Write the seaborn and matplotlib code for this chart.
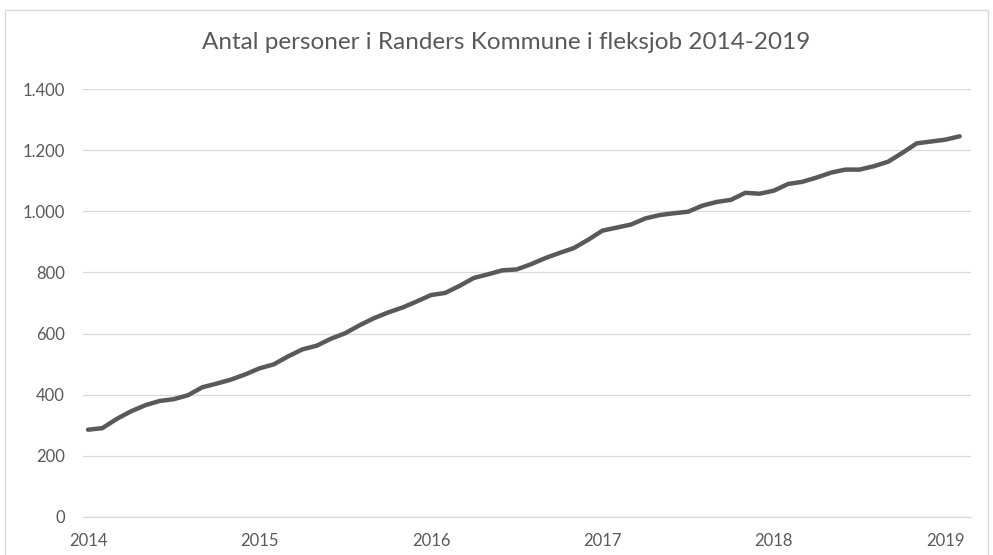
import matplotlib
matplotlib.use("Agg")
import matplotlib.pyplot as plt
from matplotlib.patches import Rectangle
import pandas as pd
import seaborn as sns

# monthly values, Jan 2014 - Feb 2019
antal = [285, 290, 320, 345, 365, 379, 385, 398, 424, 436, 449, 466,
         486, 499, 525, 548, 560, 583, 601, 627, 650, 669, 685, 705,
         726, 733, 756, 782, 794, 807, 810, 827, 847, 864, 880, 907,
         937, 947, 957, 977, 988, 994, 999, 1019, 1031, 1038, 1061, 1058,
         1068, 1090, 1097, 1111, 1127, 1137, 1137, 1148, 1163, 1192, 1223, 1229,
         1235, 1246]
maaned = list(range(len(antal)))
aar_labels = ["2014", "2015", "2016", "2017", "2018", "2019"]
aar_pos = [0, 12, 24, 36, 48, 60]
y_ticks = [0, 200, 400, 600, 800, 1000, 1200, 1400]
y_labels = ["0", "200", "400", "600", "800", "1.000", "1.200", "1.400"]
titel = "Antal personer i Randers Kommune i fleksjob 2014-2019"

sns.set_style("white")
plt.rcParams['font.family'] = ['Lato', 'DejaVu Sans']

df = pd.DataFrame({"maaned": maaned, "antal": antal})

fig = plt.figure(figsize=(9.93, 5.55), dpi=100)
ax = fig.add_axes([0.0836, 0.069, 0.8943, 0.7701])

sns.lineplot(data=df, x="maaned", y="antal", ax=ax, color="#595959",
             linewidth=3.2, solid_joinstyle="round", solid_capstyle="round")

ax.set_xlim(-0.35, 61.8)
ax.set_ylim(0, 1400)
ax.set_yticks(y_ticks)
ax.set_yticklabels(y_labels)
ax.set_xticks(aar_pos)
ax.set_xticklabels(aar_labels)
ax.set_xlabel("")
ax.set_ylabel("")

ax.grid(axis="y", color="#d9d9d9", linewidth=0.9)
ax.set_axisbelow(True)
for side in ["top", "right", "left"]:
    ax.spines[side].set_visible(False)
ax.spines["bottom"].set_color("#d9d9d9")
ax.spines["bottom"].set_linewidth(0.9)
ax.tick_params(axis="y", length=0, pad=13, labelsize=12, labelcolor="#595959")
ax.tick_params(axis="x", length=0, pad=12, labelsize=12, labelcolor="#595959")

fig.text(0.51, 0.924, titel, ha="center", va="center", fontsize=17.5,
         color="#595959", fontweight="normal")

fig.patches.append(Rectangle((0.005, -0.02), 0.99, 1.002, transform=fig.transFigure,
                             fill=False, edgecolor="#d9d9d9", linewidth=1))

fig.savefig("out.png", dpi=100)
